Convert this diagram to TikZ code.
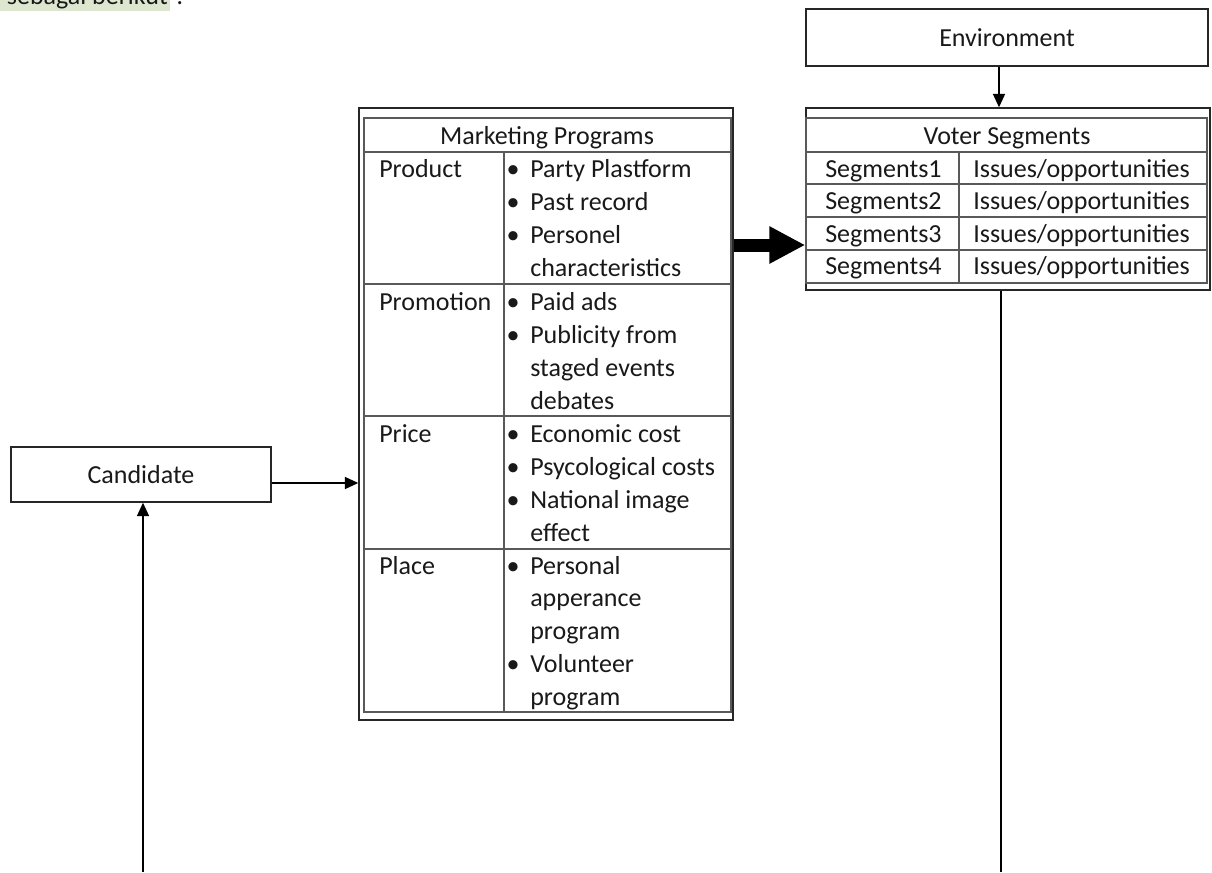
\documentclass[tikz,border=0pt]{standalone}
\usepackage{fontspec}
\setmainfont{Carlito}
\usetikzlibrary{arrows.meta}
\definecolor{hl}{RGB}{221,231,208}
\tikzset{
  txt/.style={font=\fontsize{19.5}{24}\selectfont, inner sep=0pt, anchor=base west, text=black!90},
  ctxt/.style={txt, anchor=base},
  box/.style={draw=black!85, line width=1.1pt, rectangle, inner sep=0pt, font=\fontsize{19.5}{24}\selectfont, text=black!90},
  gridline/.style={draw=black!65, line width=0.8pt},
  arr/.style={draw=black, line width=1.1pt, -{Triangle[length=10pt,width=9pt]}},
  bigarr/.style={draw=black, line width=9.75pt, -{Triangle[length=27pt,width=26.25pt]}},
}
\begin{document}
\begin{tikzpicture}[x=0.75pt,y=-0.75pt]
\useasboundingbox (0,0) rectangle (1212,872);
\clip (0,0) rectangle (1212,872);
\fill[white] (0,0) rectangle (1212,872);

% cut-off text at the top (as in the reference)
\fill[hl] (0,-30) rectangle (170,10.5);
\node[txt, anchor=base east] (intro) at (168,4) {sebagai berikut};
\node[txt] (colon) at (176,4) {:};

% Environment
\node[box, minimum width=301.5pt, minimum height=42.75pt] (env) at (1007,37.5) {Environment};

% Candidate
\node[box, minimum width=195pt, minimum height=41.25pt] (cand) at (141,474.5) {Candidate};

% Marketing programs table
\node[box, minimum width=280.5pt, minimum height=459pt] (mp) at (546,414) {};
\draw[gridline] (364,118) rectangle (731,712);
\draw[gridline] (364,152) -- (731,152);
\draw[gridline] (364,284) -- (731,284);
\draw[gridline] (364,416) -- (731,416);
\draw[gridline] (364,549) -- (731,549);
\draw[gridline] (504,152) -- (504,712);

\node[ctxt] (mptitle) at (547,144) {Marketing Programs};
\node[txt] (lprod) at (379,177) {Product};
\node[txt] (lprom) at (379,310) {Promotion};
\node[txt] (lprice) at (379,442) {Price};
\node[txt] (lplace) at (379,574) {Place};

% bullets
\node[ctxt] (b1) at (513,177) {•};
\node[ctxt] (b2) at (513,210) {•};
\node[ctxt] (b3) at (513,243) {•};
\node[ctxt] (b4) at (513,310) {•};
\node[ctxt] (b5) at (513,343) {•};
\node[ctxt] (b6) at (513,442) {•};
\node[ctxt] (b7) at (513,475) {•};
\node[ctxt] (b8) at (513,508) {•};
\node[ctxt] (b9) at (513,574) {•};
\node[ctxt] (b10) at (513,672) {•};

\node[txt] (t1) at (530,177) {Party Plastform};
\node[txt] (t2) at (530,210) {Past record};
\node[txt] (t3) at (530,243) {Personel};
\node[txt] (t3b) at (530,276) {characteristics};
\node[txt] (t4) at (530,310) {Paid ads};
\node[txt] (t5) at (530,343) {Publicity from};
\node[txt] (t5b) at (530,376) {staged events};
\node[txt] (t5c) at (530,409) {debates};
\node[txt] (t6) at (530,442) {Economic cost};
\node[txt] (t7) at (530,475) {Psycological costs};
\node[txt] (t8) at (530,508) {National image};
\node[txt] (t8b) at (530,541) {effect};
\node[txt] (t9) at (530,574) {Personal};
\node[txt] (t9b) at (530,606) {apperance};
\node[txt] (t9c) at (530,639) {program};
\node[txt] (t10) at (530,672) {Volunteer};
\node[txt] (t10b) at (530,705) {program};

% Voter segments table
\node[box, minimum width=303pt, minimum height=136.5pt] (vs) at (1008,199) {};
\draw[gridline] (806,118) rectangle (1207,283);
\draw[gridline] (806,152) -- (1207,152);
\draw[gridline] (806,184) -- (1207,184);
\draw[gridline] (806,217) -- (1207,217);
\draw[gridline] (806,250) -- (1207,250);
\draw[gridline] (959,152) -- (959,283);

\node[ctxt] (vstitle) at (1007,144) {Voter Segments};
\node[txt] (s1) at (825,177) {Segments1};
\node[txt] (s2) at (825,209) {Segments2};
\node[txt] (s3) at (825,242) {Segments3};
\node[txt] (s4) at (825,274) {Segments4};
\node[txt] (i1) at (973,177) {Issues/opportunities};
\node[txt] (i2) at (973,209) {Issues/opportunities};
\node[txt] (i3) at (973,242) {Issues/opportunities};
\node[txt] (i4) at (973,274) {Issues/opportunities};

% helper coordinates
\coordinate (ex) at (999,0);
\coordinate (ya) at (0,245);
\coordinate (yc) at (0,483);
\coordinate (vx) at (1001,0);
\coordinate (botleft) at (143,872);
\coordinate (botright) at (1001,872);

% connectors
\draw[arr] (env.south -| ex) -- (vs.north -| ex);
\draw[bigarr] (mp.east |- ya) -- (vs.west |- ya);
\draw[arr] (cand.east |- yc) -- (mp.west |- yc);
\draw[arr] (botleft) -- (cand.south -| botleft);
\draw[draw=black, line width=1.1pt] (vs.south -| vx) -- (botright);
\end{tikzpicture}
\end{document}
